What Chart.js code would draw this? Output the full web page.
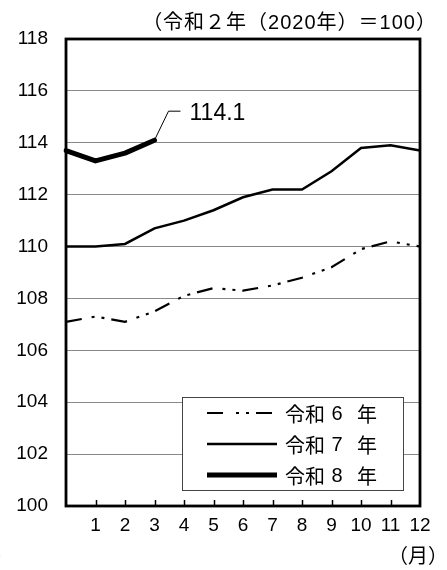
<!DOCTYPE html>
<html><head><meta charset="utf-8">
<script src="https://cdn.jsdelivr.net/npm/chart.js@4.4.1/dist/chart.umd.min.js"></script>
<style>
html,body{margin:0;padding:0;background:#fff;overflow:hidden}
#wrap{position:relative;width:447px;height:570px;overflow:hidden}
canvas{display:block}
.t{position:absolute;font-family:"Liberation Sans","Noto Sans CJK JP",sans-serif;color:#000;white-space:nowrap;line-height:1}
</style></head><body>
<div id="wrap">
<canvas id="c" width="447" height="570"></canvas>
<div class="t" id="title" style="right:10px;top:12px;font-size:20px;letter-spacing:1px">（令和２年（2020年）＝100）</div>
<div class="t" style="right:-1px;top:546px;font-size:20px">（月）</div>
<div class="t" style="left:-6px;top:546px;font-size:20px">）</div>
</div>
<script>
const monthLabels = ['', '1', '2', '3', '4', '5', '6', '7', '8', '9', '10', '11', '12'];
const seriesNames = ['令和６年', '令和７年', '令和８年'];
const r6 = [107.1, 107.3, 107.1, 107.5, 108.1, 108.4, 108.3, 108.5, 108.8, 109.2, 109.9, 110.2, 110.0];
const r7 = [110.0, 110.0, 110.1, 110.7, 111.0, 111.4, 111.9, 112.2, 112.2, 112.9, 113.8, 113.9, 113.7];
const r8 = [113.7, 113.3, 113.6, 114.1];
const yMin = 100, yMax = 118, yStep = 2;
const latestLabel = '114.1';

const styles = [
  {w: 2.2, dash: [16, 10, 3, 7, 3, 7]},
  {w: 2.5, dash: []},
  {w: 5, dash: []}
];

const framePlugin = {
  id: 'frame',
  afterDatasetsDraw(chart) {
    const {ctx, chartArea: a, scales} = chart;
    ctx.save();
    // inner x tick marks
    ctx.strokeStyle = '#000';
    ctx.lineWidth = 1.5;
    for (let i = 1; i < monthLabels.length - 1; i++) {
      const x = Math.round(scales.x.getPixelForValue(i)) + 0.5;
      ctx.beginPath(); ctx.moveTo(x, a.bottom); ctx.lineTo(x, a.bottom - 6); ctx.stroke();
    }
    // legend box
    const bx = 182, by = 397, bw = 221, bh = 93;
    ctx.fillStyle = '#fff';
    ctx.fillRect(bx, by, bw, bh);
    ctx.strokeStyle = '#444';
    ctx.lineWidth = 1;
    ctx.strokeRect(bx + 0.5, by + 0.5, bw, bh);
    const rows = [413, 444, 475];
    ctx.textBaseline = 'middle';
    ctx.fillStyle = '#000';
    chart.data.datasets.forEach((ds, i) => {
      ctx.strokeStyle = '#000';
      ctx.lineWidth = styles[i].w;
      ctx.setLineDash(i === 0 ? [16, 13, 3, 7, 3, 7] : []);
      ctx.beginPath(); ctx.moveTo(207, rows[i]); ctx.lineTo(277, rows[i]); ctx.stroke();
      ctx.setLineDash([]);
      const lab = ds.label;
      const ty = rows[i] + 1;
      ctx.font = '20px "Noto Sans CJK JP"';
      ctx.textAlign = 'left';
      ctx.fillText(lab.slice(0, 2), 285, ty);
      ctx.font = '20px "Liberation Sans"';
      ctx.textAlign = 'center';
      ctx.fillText(lab.slice(2, 3).replace(/[０-９]/g, c => String.fromCharCode(c.charCodeAt(0) - 0xFEE0)), 337, ty);
      ctx.font = '20px "Noto Sans CJK JP"';
      ctx.textAlign = 'left';
      ctx.fillText(lab.slice(3), 357, ty);
    });
    // annotation for latest value
    const last = r8.length - 1;
    const px = scales.x.getPixelForValue(last);
    const py = scales.y.getPixelForValue(r8[last]);
    ctx.strokeStyle = '#000';
    ctx.lineWidth = 1;
    ctx.beginPath();
    ctx.moveTo(px, py);
    ctx.lineTo(px + 14, py - 29);
    ctx.lineTo(px + 26, py - 29);
    ctx.stroke();
    ctx.font = '23px "Liberation Sans"';
    ctx.textAlign = 'left';
    ctx.textBaseline = 'middle';
    ctx.fillText(latestLabel, px + 35, py - 27);
    // frame
    ctx.strokeStyle = '#000';
    ctx.lineWidth = 2.8;
    ctx.strokeRect(a.left, a.top, a.right - a.left, a.bottom - a.top);
    ctx.restore();
  }
};

new Chart(document.getElementById('c'), {
  type: 'line',
  data: {
    labels: monthLabels,
    datasets: [
      {label: seriesNames[0], data: r6, borderColor: '#000', borderWidth: styles[0].w, borderDash: styles[0].dash, pointRadius: 0, tension: 0, fill: false},
      {label: seriesNames[1], data: r7, borderColor: '#000', borderWidth: styles[1].w, pointRadius: 0, tension: 0, fill: false},
      {label: seriesNames[2], data: r8, borderColor: '#000', borderWidth: styles[2].w, pointRadius: 0, tension: 0, fill: false, borderCapStyle: 'round', borderJoinStyle: 'round'}
    ]
  },
  options: {
    responsive: false,
    animation: false,
    devicePixelRatio: 1,
    layout: {padding: {top: 39, right: 27, left: 0, bottom: 0}},
    plugins: {legend: {display: false}, tooltip: {enabled: false}, title: {display: false}},
    scales: {
      x: {
        type: 'category',
        offset: false,
        grid: {display: false, drawTicks: false},
        border: {display: false},
        ticks: {color: '#000', font: {family: '"Liberation Sans"', size: 19}, padding: 8, maxRotation: 0, autoSkip: false},
        afterFit(s) { s.height = 64; }
      },
      y: {
        min: yMin, max: yMax,
        grid: {color: '#888', lineWidth: 1, drawTicks: false},
        border: {display: false},
        ticks: {stepSize: yStep, color: '#000', font: {family: '"Liberation Sans"', size: 19}, padding: 18},
        afterFit(s) { s.width = 66; }
      }
    }
  },
  plugins: [framePlugin]
});
</script>
</body></html>
